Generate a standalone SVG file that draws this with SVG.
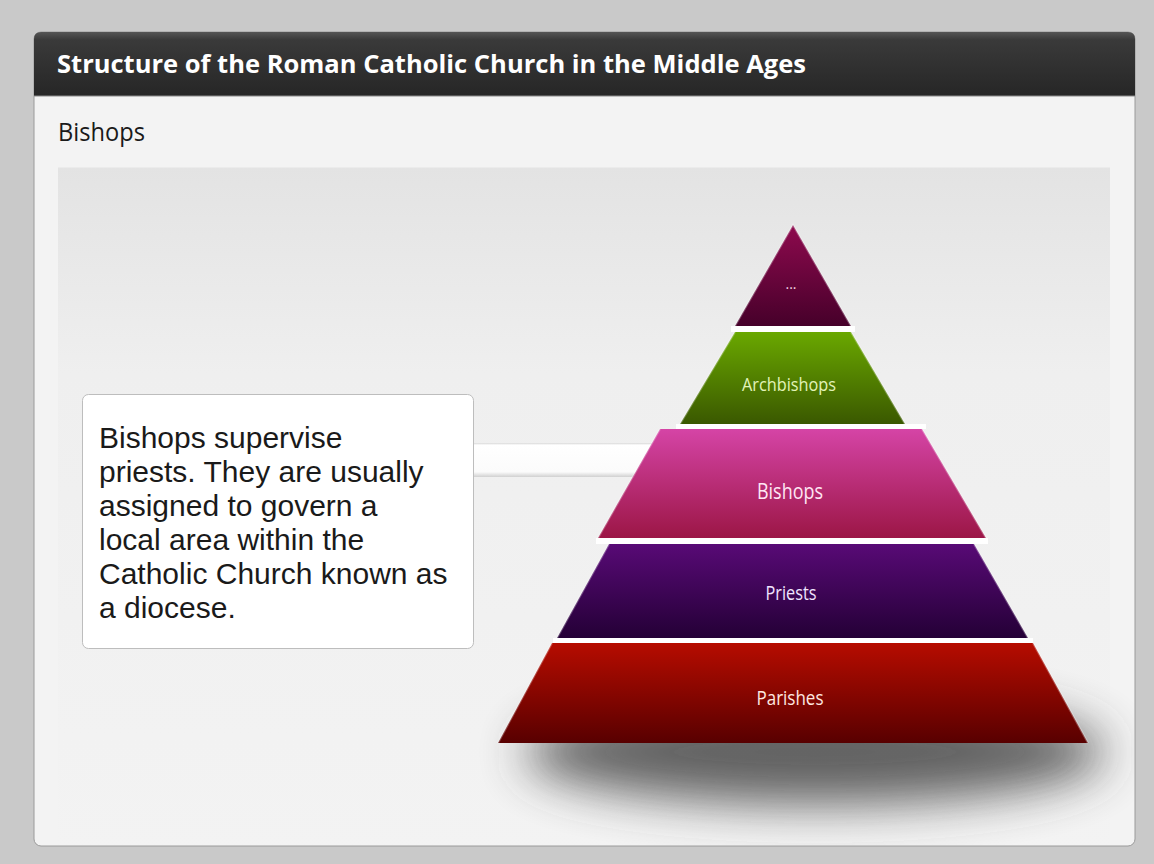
<svg xmlns="http://www.w3.org/2000/svg" width="1154" height="864" viewBox="0 0 1154 864">
<style>
.lbl{font-family:"Open Sans","DejaVu Sans",sans-serif;text-anchor:middle;}
.body{font-family:"Liberation Sans",Arial,sans-serif;font-size:30px;fill:#1a1a1a;}
.edge{fill:none;stroke:#ffffff;stroke-opacity:0.28;stroke-width:2;}
.gap{fill:#ffffff;}
</style>
<defs>
<linearGradient id="hdr" x1="0" y1="0" x2="0" y2="1"><stop offset="0" stop-color="#555"/><stop offset="0.12" stop-color="#3a3a3a"/><stop offset="1" stop-color="#262626"/></linearGradient>
<linearGradient id="inner" x1="0" y1="0" x2="0" y2="1"><stop offset="0" stop-color="#e3e3e3"/><stop offset="0.3" stop-color="#efefef"/><stop offset="1" stop-color="#f3f3f3"/></linearGradient>
<linearGradient id="gTop" x1="0" y1="0" x2="0" y2="1"><stop offset="0" stop-color="#8e0a4e"/><stop offset="1" stop-color="#46002a"/></linearGradient>
<linearGradient id="gArch" x1="0" y1="0" x2="0" y2="1"><stop offset="0" stop-color="#6aa800"/><stop offset="1" stop-color="#3a5800"/></linearGradient>
<linearGradient id="gBish" x1="0" y1="0" x2="0" y2="1"><stop offset="0" stop-color="#d544a6"/><stop offset="1" stop-color="#9c1646"/></linearGradient>
<linearGradient id="gPri" x1="0" y1="0" x2="0" y2="1"><stop offset="0" stop-color="#580a76"/><stop offset="1" stop-color="#240036"/></linearGradient>
<linearGradient id="gPar" x1="0" y1="0" x2="0" y2="1"><stop offset="0" stop-color="#b60c00"/><stop offset="1" stop-color="#580000"/></linearGradient>
<linearGradient id="band" x1="0" y1="0" x2="0" y2="1"><stop offset="0" stop-color="#d8d8d8"/><stop offset="0.06" stop-color="#ffffff"/><stop offset="0.85" stop-color="#fbfbfb"/><stop offset="1" stop-color="#d0d0d0"/></linearGradient>
<filter id="blur" x="-50%" y="-100%" width="200%" height="300%"><feGaussianBlur stdDeviation="24"/></filter>
<clipPath id="panelClip"><rect x="35" y="96" width="1099" height="749" rx="6"/></clipPath>
</defs>

<rect x="0" y="0" width="1154" height="864" fill="#c9c9c9"/>

<g id="panel">
<rect x="34" y="32" width="1101" height="814" rx="7" fill="#f3f3f3" stroke="#9a9a9a" stroke-width="1"/>
<path d="M34,96 V39 Q34,32 41,32 H1128 Q1135,32 1135,39 V96 Z" fill="url(#hdr)"/>
<line x1="34" y1="96" x2="1135" y2="96" stroke="#8a8a8a" stroke-width="1"/>
<g clip-path="url(#panelClip)">
<rect x="58" y="167" width="1052" height="690" fill="url(#inner)"/>
<line x1="58" y1="167.5" x2="1110" y2="167.5" stroke="#ebebeb" stroke-width="1"/>
<ellipse cx="815" cy="752" rx="290" ry="52" fill="#3c3c3c" opacity="0.8" filter="url(#blur)"/>
</g>
</g>

<g id="title"><text x="57" y="73" font-family="'Open Sans','DejaVu Sans',sans-serif" font-weight="bold" font-size="25" fill="#ffffff" textLength="749" lengthAdjust="spacingAndGlyphs">Structure of the Roman Catholic Church in the Middle Ages</text></g>
<g id="subtitle"><text x="58" y="141" font-family="'Open Sans','DejaVu Sans',sans-serif" font-size="25" fill="#1a1a1a" textLength="87" lengthAdjust="spacingAndGlyphs">Bishops</text></g>

<g id="connectors">
<rect x="470" y="443" width="230" height="34" fill="url(#band)"/>
</g>

<g id="callout">
<rect x="82.5" y="394.5" width="391" height="254" rx="6" fill="#ffffff" stroke="#bdbdbd" stroke-width="1"/>
<text class="body" x="99" y="448">Bishops supervise</text>
<text class="body" x="99" y="482">priests. They are usually</text>
<text class="body" x="99" y="516">assigned to govern a</text>
<text class="body" x="99" y="550">local area within the</text>
<text class="body" x="99" y="584">Catholic Church known as</text>
<text class="body" x="99" y="618">a diocese.</text>
</g>

<g id="gaps">
<rect class="gap" x="731" y="326" width="124" height="6"/>
<rect class="gap" x="676" y="424" width="250" height="5"/>
<rect class="gap" x="596" y="538" width="392" height="6"/>
<rect class="gap" x="553" y="638" width="480" height="5"/>
</g>

<g id="layer-top">
<polygon points="793,225 851,326 735,326" fill="url(#gTop)"/>
<polyline class="edge" points="735,326 793,225 851,326"/>
<text class="lbl" x="791" y="289" font-size="14" fill="#f4d8e6">...</text>
</g>
<g id="layer-archbishops">
<polygon points="735,332 851,332 905,424 680,424" fill="url(#gArch)"/>
<polyline class="edge" points="680,424 735,332"/><polyline class="edge" points="851,332 905,424"/>
<text class="lbl" x="789" y="391" font-size="19" fill="#e2f3b8" textLength="94" lengthAdjust="spacingAndGlyphs">Archbishops</text>
</g>
<g id="layer-bishops">
<polygon points="660,429 922,429 986,538 598,538" fill="url(#gBish)"/>
<polyline class="edge" points="598,538 660,429"/><polyline class="edge" points="922,429 986,538"/>
<text class="lbl" x="790" y="499" font-size="22" fill="#ffe6f4" textLength="66" lengthAdjust="spacingAndGlyphs">Bishops</text>
</g>
<g id="layer-priests">
<polygon points="609,544 974,544 1028,638 557,638" fill="url(#gPri)"/>
<polyline class="edge" points="557,638 609,544"/><polyline class="edge" points="974,544 1028,638"/>
<text class="lbl" x="791" y="600" font-size="20" fill="#f0e4ff" textLength="51" lengthAdjust="spacingAndGlyphs">Priests</text>
</g>
<g id="layer-parishes">
<polygon points="552,643 1033,643 1088,743 498,743" fill="url(#gPar)"/>
<polyline class="edge" points="498,743 552,643"/><polyline class="edge" points="1033,643 1088,743"/>
<text class="lbl" x="790" y="705" font-size="20" fill="#ffe8e0" textLength="67" lengthAdjust="spacingAndGlyphs">Parishes</text>
</g>
</svg>
